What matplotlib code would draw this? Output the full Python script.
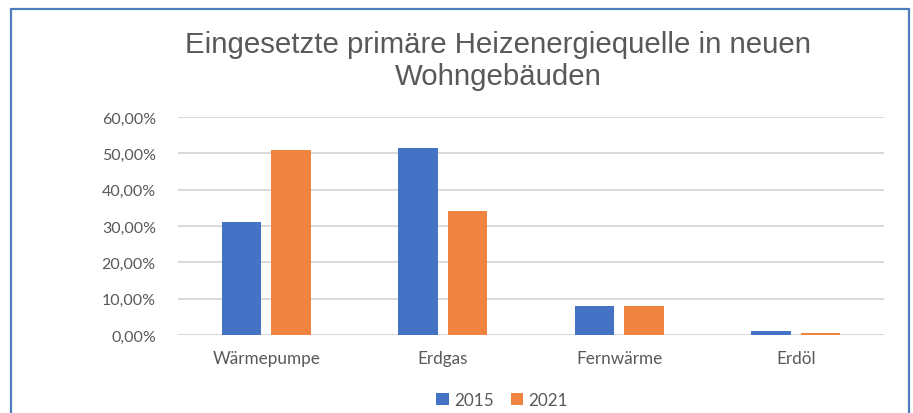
import matplotlib
matplotlib.use("Agg")
import matplotlib.pyplot as plt
import numpy as np
from matplotlib.patches import Rectangle
from matplotlib.ticker import FuncFormatter

categories = ["Wärmepumpe", "Erdgas", "Fernwärme", "Erdöl"]
series_names = ["2015", "2021"]
values_2015 = [0.312, 0.514, 0.080, 0.012]
values_2021 = [0.508, 0.341, 0.080, 0.006]
y_ticks = [0.0, 0.1, 0.2, 0.3, 0.4, 0.5, 0.6]
title = "Eingesetzte primäre Heizenergiequelle in neuen\nWohngebäuden"

blue = "#4472C4"
orange = "#EF8340"
text_gray = "#595959"
grid_gray = "#D9D9D9"

W, H = 913, 414
fig = plt.figure(figsize=(W / 100, H / 100), dpi=100)
fig.patch.set_facecolor("white")

# chart frame
fig.patches.append(Rectangle((11 / W, -0.05), (909 - 11) / W, 1 - 10 / H + 0.05,
                             transform=fig.transFigure, fill=False,
                             edgecolor="#4F7EBF", linewidth=1.6))

ax = fig.add_axes([178 / W, 1 - 336 / H, (884 - 178) / W, (336 - 118) / H])
x = np.arange(len(categories))
bw = 0.224
off = 0.141
b1 = ax.bar(x - off, values_2015, bw, color=blue, label=series_names[0], zorder=3)
b2 = ax.bar(x + off, values_2021, bw, color=orange, label=series_names[1], zorder=3)

ax.set_xlim(-0.5, len(categories) - 0.5)
ax.set_ylim(0, 0.6)
ax.set_yticks(y_ticks)
ax.yaxis.set_major_formatter(FuncFormatter(lambda v, p: f"{v*100:.2f}%".replace(".", ",")))
ax.set_xticks(x)
ax.set_xticklabels(categories)
ax.grid(axis="y", color=grid_gray, linewidth=1.4, zorder=0)
for s in ax.spines.values():
    s.set_visible(False)
ax.tick_params(axis="both", length=0, colors=text_gray, labelsize=11.5)
ax.tick_params(axis="y", pad=16)
ax.tick_params(axis="x", pad=11, labelsize=12.3)
for lab in ax.get_xticklabels() + ax.get_yticklabels():
    lab.set_family("Lato")

fig.text(498 / W, 1 - 61 / H, title, ha="center", va="center", fontsize=21.2,
         color=text_gray, family="Liberation Sans", linespacing=1.2)

leg = fig.legend(handles=[b1, b2], labels=series_names, loc="center",
                 bbox_to_anchor=(502 / W, 1 - 401 / H), ncol=2, frameon=False,
                 handlelength=0.75, handleheight=0.75, handletextpad=0.3,
                 columnspacing=1.0, prop={"family": "Lato", "size": 12.3})
for t in leg.get_texts():
    t.set_color(text_gray)

fig.savefig("out.png", dpi=100)
